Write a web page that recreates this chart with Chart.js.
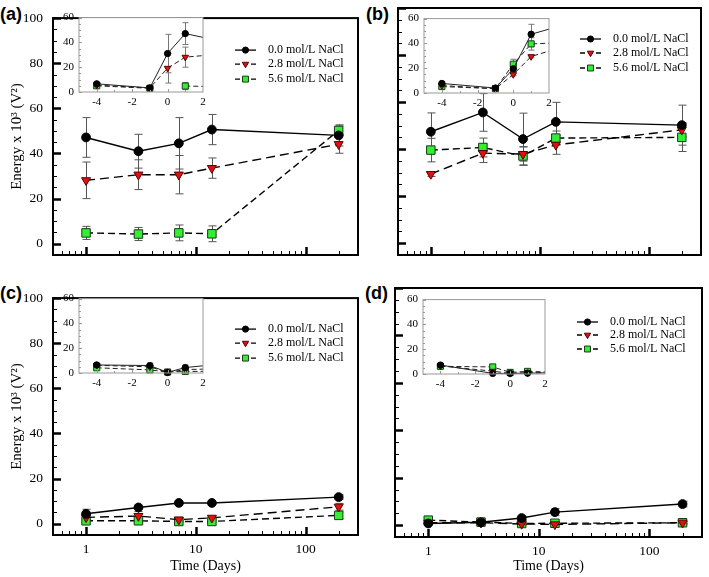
<!DOCTYPE html>
<html>
<head>
<meta charset="utf-8">
<script src="https://cdn.jsdelivr.net/npm/chart.js"></script>
<style>
  html, body { margin: 0; padding: 0; background: #fff; }
  body { width: 709px; height: 577px; position: relative; overflow: hidden; }
  canvas { position: absolute; }
  .tag { position: absolute; font: bold 18px 'Liberation Sans', Arial, sans-serif; line-height: 1; color: #000; }
</style>
</head>
<body>
<div class="tag" style="left:0px;top:5px">(a)</div>
<div class="tag" style="left:366px;top:5px">(b)</div>
<div class="tag" style="left:0px;top:284px">(c)</div>
<div class="tag" style="left:365px;top:284px">(d)</div>

<canvas id="pa" width="365" height="280" style="left:0;top:0"></canvas>
<canvas id="pb" width="359" height="280" style="left:350px;top:0"></canvas>
<canvas id="pc" width="365" height="297" style="left:0;top:280px"></canvas>
<canvas id="pd" width="359" height="297" style="left:350px;top:280px"></canvas>
<canvas id="ia" width="156" height="106" style="left:57px;top:6px"></canvas>
<canvas id="ib" width="157" height="106" style="left:402px;top:7px"></canvas>
<canvas id="ic" width="156" height="106" style="left:57px;top:287px"></canvas>
<canvas id="id" width="154" height="106" style="left:401px;top:288px"></canvas>

<script>
// sampling days (main panels, log axis) and the extra early days shown in the insets
const days = [1, 3, 7, 14, 200];
const insetDays = [-4, -1, 0];
const seriesLabels = ['0.0 mol/L NaCl', '2.8 mol/L NaCl', '5.6 mol/L NaCl'];
const xTickLabels = [1, 10, 100];
const yTickLabels = [0, 20, 40, 60, 80, 100];
const insetXTickLabels = [-4, -2, 0, 2];
const insetYTickLabels = [0, 20, 40, 60];

// (a)
const aBlack = [47.1, 41.0, 44.5, 50.6, 48.0];
const aBlackErr = [8.8, 7.5, 11.4, 6.7, 4.7];
const aRed = [28.1, 30.6, 30.6, 33.5, 44.1];
const aRedErr = [8.1, 6.6, 8.5, 4.5, 4.0];
const aGreen = [4.8, 4.3, 4.8, 4.4, 50.2];
const aGreenErr = [2.9, 2.9, 3.5, 3.5, 2.0];
const aBlackPre = [6.6, 3.3, 31.0];
const aBlackPreErr = [1.0, 0.5, 15.5];
const aRedPre = [5.5, 3.3, 19.2];
const aRedPreErr = [0, 0, 12.0];
const aGreenPre = [5.0, 3.0, null];
const aGreenPreErr = [0, 0, 0];

// (b)
const bBlack = [47.4, 55.6, 44.3, 51.6, 50.2];
const bBlackErr = [8.0, 8.0, 11.0, 8.3, 8.5];
const bRed = [29.4, 38.3, 37.9, 41.8, 48.2];
const bRedErr = [1.0, 4.0, 3.0, 4.0, 3.0];
const bGreen = [39.6, 40.7, 37.1, 44.7, 45.0];
const bGreenErr = [5.0, 4.0, 4.0, 3.0, 6.0];
const bBlackPre = [7.7, 4.0, 19.5];
const bBlackPreErr = [1.0, 2.0, 2.0];
const bRedPre = [6.0, 3.5, 14.9];
const bRedPreErr = [0, 0, 1.0];
const bGreenPre = [5.2, 3.5, 23.2];
const bGreenPreErr = [0, 0, 4.0];

// (c)
const cBlack = [4.4, 7.2, 9.2, 9.2, 11.8];
const cBlackErr = [2.0, 0.5, 0.5, 0.5, 1.0];
const cRed = [2.8, 3.4, 1.8, 2.6, 7.5];
const cRedErr = [1.0, 2.0, 0.5, 0.5, 1.5];
const cGreen = [1.3, 1.3, 1.0, 1.0, 3.7];
const cGreenErr = [0.5, 0.5, 0.3, 0.3, 1.5];
const cBlackPre = [6.5, 6.0, 0.5];
const cBlackPreErr = [0, 2.0, 0];
const cRedPre = [6.2, 5.0, 0.5];
const cRedPreErr = [1.0, 1.0, 0];
const cGreenPre = [4.2, 2.5, 0.8];
const cGreenPreErr = [0, 0, 0];

// (d)
const dBlack = [0.7, 1.2, 3.0, 5.5, 8.9];
const dBlackErr = [0.5, 0.3, 0.8, 1.5, 1.2];
const dRed = [1.0, 1.0, 0.5, 0.3, 1.0];
const dRedErr = [0.3, 0.3, 0.5, 1.0, 0.5];
const dGreen = [2.1, 1.3, 0.7, 0.8, 1.0];
const dGreenErr = [0.5, 0.3, 0.5, 0.5, 0.5];
const dBlackPre = [7.2, 0.5, 0.5];
const dBlackPreErr = [0, 0, 0];
const dRedPre = [6.5, 2.3, 0.5];
const dRedPreErr = [0, 0, 0];
const dGreenPre = [6.2, 5.7, 1.3];
const dGreenPreErr = [0, 0, 0];

const SERIF = "'Liberation Serif', 'Times New Roman', serif";

const seriesStyle = [
  { shape: 'circle', fill: '#000000', edge: '#000000', dash: [], rot: 0, r: 4.4 },
  { shape: 'triangle', fill: '#e01010', edge: '#5a0000', dash: [9, 5], rot: 180, r: 5.2 },
  { shape: 'rect', fill: '#33ee33', edge: '#1a3a1a', dash: [7, 4], rot: 0, r: 6 }
];

// minor tick positions (only decoration, labels come from the *TickLabels arrays)
const logTicks = [];
[0.1, 1, 10, 100].forEach(dec => { for (let k = 1; k <= 9; k++) { const v = +(k * dec).toFixed(3); if (v >= 0.5 && v <= 300) logTicks.push(v); } });
const yTicks = [];
for (let v = 0; v <= 100; v += 5) yTicks.push(v);
const insetYTicks = [];
for (let v = 0; v <= 60; v += 5) insetYTicks.push(v);
const insetXTicks = [];
for (let v = -5; v <= 2; v++) insetXTicks.push(v);

function drawMarker(ctx, shape, x, y, r) {
  ctx.beginPath();
  if (shape === 'circle') {
    ctx.arc(x, y, r, 0, Math.PI * 2);
  } else if (shape === 'triangle') {
    ctx.moveTo(x - r * 0.87, y - r * 0.5);
    ctx.lineTo(x + r * 0.87, y - r * 0.5);
    ctx.lineTo(x, y + r);
    ctx.closePath();
  } else {
    const s = r * 0.707;
    ctx.rect(x - s, y - s, 2 * s, 2 * s);
  }
  ctx.fill();
  ctx.stroke();
}

// white inset background + frame + inward tick marks
const framePlugin = {
  id: 'frameTicks',
  beforeDraw(chart, args, o) {
    if (!o.fillBg) return;
    const a = chart.chartArea, ctx = chart.ctx;
    ctx.save();
    ctx.fillStyle = '#fff';
    ctx.fillRect(a.left, a.top, a.right - a.left, a.bottom - a.top);
    ctx.restore();
  },
  afterDraw(chart, args, o) {
    const { ctx, chartArea: a, scales: { x, y } } = chart;
    ctx.save();
    ctx.strokeStyle = o.color;
    y.ticks.forEach(t => {
      const py = Math.round(y.getPixelForValue(t.value)) + 0.5;
      const major = t.value % o.yMajor === 0;
      ctx.lineWidth = major ? o.majorWidth : 1;
      ctx.beginPath();
      ctx.moveTo(a.left, py);
      ctx.lineTo(a.left + (major ? o.majorLen : o.minorLen), py);
      ctx.stroke();
    });
    x.ticks.forEach(t => {
      const v = t.value;
      const major = o.logX ? Math.abs(Math.log10(v) - Math.round(Math.log10(v))) < 1e-9 : v % 2 === 0;
      const px = Math.round(x.getPixelForValue(v)) + 0.5;
      if (px < a.left + 1 || px > a.right - 1) return;
      ctx.lineWidth = major ? o.majorWidth : 1;
      ctx.beginPath();
      ctx.moveTo(px, a.bottom);
      ctx.lineTo(px, a.bottom - (major ? o.majorLen : o.minorLen));
      ctx.stroke();
    });
    ctx.lineWidth = o.frame;
    ctx.strokeRect(a.left, a.top, a.right - a.left, a.bottom - a.top);
    ctx.restore();
  }
};

// vertical error bars with caps, drawn under lines and markers
const errorBarPlugin = {
  id: 'errorBars',
  beforeDatasetsDraw(chart, args, o) {
    const { ctx, chartArea: a } = chart;
    const yS = chart.scales.y;
    ctx.save();
    ctx.strokeStyle = o.color;
    ctx.lineWidth = 1;
    chart.data.datasets.forEach((ds, i) => {
      const meta = chart.getDatasetMeta(i);
      (ds.errors || []).forEach((e, k) => {
        const pt = meta.data[k];
        const v = ds.data[k].y;
        if (!e || v === null || !pt || pt.x > a.right + 0.5 || pt.x < a.left - 0.5) return;
        const top = yS.getPixelForValue(v + e);
        const bot = Math.min(yS.getPixelForValue(v - e), a.bottom);
        const px = Math.round(pt.x) + 0.5;
        ctx.beginPath();
        ctx.moveTo(px, top); ctx.lineTo(px, bot);
        ctx.moveTo(px - o.cap, top); ctx.lineTo(px + o.cap, top);
        if (bot < a.bottom) { ctx.moveTo(px - o.cap, bot); ctx.lineTo(px + o.cap, bot); }
        ctx.stroke();
      });
    });
    ctx.restore();
  }
};

// legend with line sample + marker, inside the plot area
const legendPlugin = {
  id: 'saltLegend',
  afterDraw(chart, args, o) {
    if (!o.show) return;
    const { ctx, chartArea: a } = chart;
    ctx.save();
    ctx.font = '12px ' + SERIF;
    ctx.textBaseline = 'middle';
    ctx.fillStyle = '#000';
    chart.data.datasets.forEach((ds, i) => {
      const st = seriesStyle[i];
      const y = a.top + o.rows[i];
      const x0 = a.left + o.x;
      ctx.strokeStyle = '#000';
      ctx.lineWidth = 1.3;
      ctx.setLineDash(st.dash.length ? [5, 3] : []);
      ctx.beginPath();
      ctx.moveTo(x0, y); ctx.lineTo(x0 + o.len, y);
      ctx.stroke();
      ctx.setLineDash([]);
      ctx.fillStyle = st.fill;
      ctx.strokeStyle = st.edge;
      ctx.lineWidth = 1;
      drawMarker(ctx, st.shape, x0 + o.len / 2, y, st.r * 0.7);
      ctx.fillStyle = '#000';
      ctx.fillText(ds.label, a.left + o.textX, y);
    });
    ctx.restore();
  }
};

function buildSets(xs, vals, errs, inset) {
  return vals.map((v, i) => {
    const st = seriesStyle[i];
    return {
      label: seriesLabels[i],
      data: xs.map((d, k) => ({ x: d, y: v[k] })),
      errors: errs[i],
      borderColor: inset ? '#222' : '#000',
      borderWidth: inset ? 1 : 1.4,
      borderDash: inset && st.dash.length ? [5, 3] : st.dash,
      pointStyle: st.shape,
      pointRadius: inset ? st.r * 0.72 : st.r,
      pointRotation: st.rot,
      pointBackgroundColor: st.fill,
      pointBorderColor: st.edge,
      pointBorderWidth: 1,
      tension: 0,
      spanGaps: false,
      clip: inset ? { left: 6, top: 0, right: 0, bottom: 6 } : 6
    };
  });
}

function mainPanel(id, g, vals, errs) {
  new Chart(document.getElementById(id), {
    type: 'line',
    data: { datasets: buildSets(days, vals, errs, false) },
    options: {
      responsive: false,
      animation: false,
      devicePixelRatio: 1,
      layout: { padding: { top: g.padTop, right: g.padRight, left: 0, bottom: 0 } },
      plugins: {
        legend: { display: false },
        tooltip: { enabled: false },
        frameTicks: { color: '#000', frame: 2, yMajor: 20, majorLen: 8, minorLen: 4, majorWidth: 2.5, logX: true, fillBg: false },
        errorBars: { color: '#555', cap: 4 },
        saltLegend: { show: true, x: 182, len: 21, textX: 215, rows: g.rows }
      },
      scales: {
        x: {
          type: 'logarithmic', min: 0.5, max: 300,
          grid: { display: false, drawTicks: false }, border: { display: false },
          afterBuildTicks: s => { s.ticks = logTicks.map(v => ({ value: v })); },
          afterFit: s => { s.height = g.xH; },
          ticks: {
            display: g.xLabels, autoSkip: false, maxRotation: 0, padding: 6, color: '#000',
            font: { family: SERIF, size: 13.5 },
            callback: v => xTickLabels.includes(v) ? String(v) : ''
          },
          title: { display: g.xLabels, text: 'Time (Days)', color: '#000', font: { family: SERIF, size: 14 }, padding: { top: 0, bottom: 2 } }
        },
        y: {
          type: 'linear', min: -5, max: 100,
          grid: { display: false, drawTicks: false }, border: { display: false },
          afterBuildTicks: s => { s.ticks = yTicks.map(v => ({ value: v })); },
          afterFit: s => { s.width = g.yW; },
          ticks: {
            display: g.yLabels, autoSkip: false, padding: 10, color: '#000',
            font: { family: SERIF, size: 13.5 },
            callback: v => yTickLabels.includes(v) ? String(v) : ''
          },
          title: { display: g.yLabels, text: 'Energy x 10³ (V²)', color: '#000', font: { family: SERIF, size: 15 }, padding: { top: 8, bottom: 0 } }
        }
      }
    },
    plugins: [framePlugin, errorBarPlugin, legendPlugin]
  });
}

function insetPanel(id, pre, preErr, vals, errs) {
  const xs = insetDays.concat(days);
  const v = pre.map((p, i) => p.concat(vals[i]));
  const e = preErr.map((p, i) => p.concat(errs[i]));
  new Chart(document.getElementById(id), {
    type: 'line',
    data: { datasets: buildSets(xs, v, e, true) },
    options: {
      responsive: false,
      animation: false,
      devicePixelRatio: 1,
      layout: { padding: { top: 8, right: 10, left: 0, bottom: 0 } },
      plugins: {
        legend: { display: false },
        tooltip: { enabled: false },
        frameTicks: { color: '#999', frame: 1, yMajor: 20, majorLen: 3, minorLen: 2, majorWidth: 1, logX: false, fillBg: true },
        errorBars: { color: '#777', cap: 3 },
        saltLegend: { show: false }
      },
      scales: {
        x: {
          type: 'linear', min: -5, max: 2,
          grid: { display: false, drawTicks: false }, border: { display: false },
          afterBuildTicks: s => { s.ticks = insetXTicks.map(t => ({ value: t })); },
          afterFit: s => { s.height = 20; },
          ticks: {
            autoSkip: false, maxRotation: 0, padding: 4, color: '#000',
            font: { family: SERIF, size: 11 },
            callback: t => insetXTickLabels.includes(t) ? String(t) : ''
          }
        },
        y: {
          type: 'linear', min: 0, max: 60,
          grid: { display: false, drawTicks: false }, border: { display: false },
          afterBuildTicks: s => { s.ticks = insetYTicks.map(t => ({ value: t })); },
          afterFit: s => { s.width = 22; },
          ticks: {
            autoSkip: false, padding: 5, color: '#000',
            font: { family: SERIF, size: 11 },
            callback: t => insetYTickLabels.includes(t) ? String(t) : ''
          }
        }
      }
    },
    plugins: [framePlugin, errorBarPlugin]
  });
}

mainPanel('pa', { padTop: 7, padRight: 3, yW: 53, xH: 25, xLabels: false, yLabels: true, rows: [32, 46, 61] },
  [aBlack, aRed, aGreen], [aBlackErr, aRedErr, aGreenErr]);
mainPanel('pb', { padTop: 8, padRight: 8, yW: 48, xH: 25, xLabels: false, yLabels: false, rows: [31, 45, 60] },
  [bBlack, bRed, bGreen], [bBlackErr, bRedErr, bGreenErr]);
mainPanel('pc', { padTop: 8, padRight: 3, yW: 53, xH: 42, xLabels: true, yLabels: true, rows: [31, 45, 60] },
  [cBlack, cRed, cGreen], [cBlackErr, cRedErr, cGreenErr]);
mainPanel('pd', { padTop: 8, padRight: 5, yW: 45, xH: 40, xLabels: true, yLabels: false, rows: [34, 47, 61] },
  [dBlack, dRed, dGreen], [dBlackErr, dRedErr, dGreenErr]);

insetPanel('ia', [aBlackPre, aRedPre, aGreenPre], [aBlackPreErr, aRedPreErr, aGreenPreErr],
  [aBlack, aRed, aGreen], [aBlackErr, aRedErr, aGreenErr]);
insetPanel('ib', [bBlackPre, bRedPre, bGreenPre], [bBlackPreErr, bRedPreErr, bGreenPreErr],
  [bBlack, bRed, bGreen], [bBlackErr, bRedErr, bGreenErr]);
insetPanel('ic', [cBlackPre, cRedPre, cGreenPre], [cBlackPreErr, cRedPreErr, cGreenPreErr],
  [cBlack, cRed, cGreen], [cBlackErr, cRedErr, cGreenErr]);
insetPanel('id', [dBlackPre, dRedPre, dGreenPre], [dBlackPreErr, dRedPreErr, dGreenPreErr],
  [dBlack, dRed, dGreen], [dBlackErr, dRedErr, dGreenErr]);
</script>
</body>
</html>
